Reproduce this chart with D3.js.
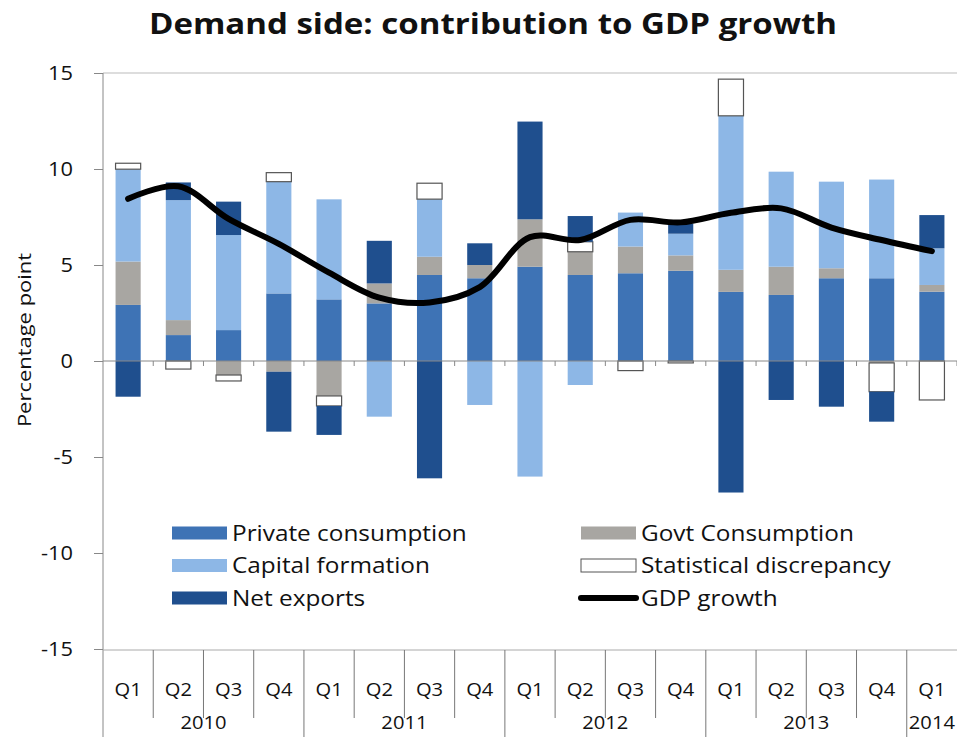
<!DOCTYPE html>
<html><head><meta charset="utf-8">
<script src="https://cdn.jsdelivr.net/npm/d3@7"></script>
<style>body{margin:0;background:#fff}svg{display:block}text{font-family:"Open Sans",Lato,sans-serif}</style>
</head><body><svg id="c" width="957" height="737"></svg>
<script>
const quarters = ["Q1","Q2","Q3","Q4","Q1","Q2","Q3","Q4","Q1","Q2","Q3","Q4","Q1","Q2","Q3","Q4","Q1"];
const years = ["2010","2011","2012","2013","2014"];
const yearSpans = [4,4,4,4,1];
const privateCons = [2.92,1.35,1.61,3.52,3.21,3.00,4.48,4.31,4.91,4.48,4.57,4.70,3.60,3.44,4.31,4.31,3.61];
const govCons     = [2.26,0.78,-0.73,-0.56,-1.82,1.04,0.95,0.69,2.47,1.21,1.39,0.80,1.15,1.47,0.52,-0.10,0.35];
const capital     = [4.81,6.25,4.95,5.82,5.21,-2.90,3.00,-2.29,-6.02,-1.25,1.77,1.13,8.02,4.95,4.51,5.14,1.91];
const statDisc    = [0.31,-0.42,-0.31,0.47,-0.52,0.00,0.83,0.00,0.00,0.52,-0.50,-0.10,1.91,0.00,0.00,-1.50,-2.03];
const netExports  = [-1.86,0.92,1.74,-3.12,-1.51,2.22,-6.11,1.13,5.09,1.34,0.00,0.52,-6.85,-2.03,-2.38,-1.56,1.73];
const gdpGrowth   = [8.45,9.10,7.40,6.10,4.60,3.30,3.05,3.85,6.45,6.30,7.35,7.22,7.72,7.95,6.95,6.30,5.72];
const yTicks = [-15,-10,-5,0,5,10,15];
const seriesNames = ["Private consumption","Govt Consumption","Capital formation","Statistical discrepancy","Net exports"];

const keys = ["p","g","c","s","n"];
const colors = {p:"#3e73b5", g:"#a8a6a2", c:"#8db7e6", s:"#ffffff", n:"#1f4f8e"};
const data = quarters.map((q,i)=>({i, p:privateCons[i], g:govCons[i], c:capital[i], s:statDisc[i], n:netExports[i]}));

const svg = d3.select("#c");
const L=103, R=957, T=73, B=649;
const x = d3.scaleBand().domain(d3.range(quarters.length)).range([L,R]).paddingInner(0.5).paddingOuter(0.25);
const xb = d3.scaleBand().domain(d3.range(quarters.length)).range([L,R]).padding(0);
const y = d3.scaleLinear().domain([-15,15]).range([B,T]);

function txt(g, tx, ty, s, size, anchor, weight, sx){
  return g.append("text").attr("transform",`translate(${tx},${ty}) scale(${sx||1.12},1)`)
    .attr("text-anchor",anchor||"start").attr("font-size",size).attr("font-weight",weight||"normal")
    .attr("fill","#111").text(s);
}

// title
txt(svg, 493, 34, "Demand side: contribution to GDP growth", 28, "middle", "bold", 1.18);

// top line
svg.append("line").attr("x1",L).attr("x2",R).attr("y1",y(15)).attr("y2",y(15)).attr("stroke","#bbb");

// y axis
const yAxis = d3.axisLeft(y).tickValues(yTicks).tickSize(9).tickFormat(d=>String(d));
const ya = svg.append("g").attr("transform",`translate(${L},0)`).call(yAxis);
ya.select(".domain").remove();
ya.selectAll("line").attr("stroke","#888");
ya.selectAll("text").remove();
yTicks.forEach(t=>txt(svg, 73, y(t)+7, String(t), 19.5, "end"));
svg.append("line").attr("x1",L).attr("x2",L).attr("y1",T).attr("y2",737).attr("stroke","#888");

svg.append("text").attr("transform",`translate(31,340) rotate(-90) scale(1.22,1)`).attr("text-anchor","middle")
  .attr("font-size",18).attr("fill","#111").text("Percentage point");

// stacked bars
const stack = d3.stack().keys(keys).offset(d3.stackOffsetDiverging);
const layers = stack(data);
svg.append("g").selectAll("g").data(layers).join("g")
  .attr("fill",d=>colors[d.key])
  .attr("stroke",d=>d.key==="s"?"#555":"none")
  .attr("stroke-width",1.2)
  .selectAll("rect").data(d=>d.filter(v=>v[1]-v[0]!==0)).join("rect")
  .attr("x",d=>x(d.data.i)).attr("width",x.bandwidth())
  .attr("y",d=>y(Math.max(d[0],d[1]))).attr("height",d=>Math.abs(y(d[0])-y(d[1])));

// zero axis with ticks
svg.append("line").attr("x1",L).attr("x2",R).attr("y1",y(0)).attr("y2",y(0)).attr("stroke","#888");
svg.append("g").selectAll("line").data(d3.range(1,quarters.length+1)).join("line")
  .attr("x1",i=>L+i*xb.step()).attr("x2",i=>L+i*xb.step())
  .attr("y1",y(0)).attr("y2",y(0)+5).attr("stroke","#888");

// GDP line
const line = d3.line().x((d,i)=>x(i)+x.bandwidth()/2).y(d=>y(d)).curve(d3.curveCatmullRom.alpha(0.5));
svg.append("path").datum(gdpGrowth).attr("d",line).attr("fill","none").attr("stroke","#000").attr("stroke-width",6).attr("stroke-linecap","round");

// bottom category axis
svg.append("line").attr("x1",L).attr("x2",R).attr("y1",B+1).attr("y2",B+1).attr("stroke","#aaa");
const xg = svg.append("g");
quarters.forEach((q,i)=>{
  txt(xg, xb(i)+xb.bandwidth()/2, 696, q, 18, "middle");
  if(i>0){
    const isYear = i%4===0;
    xg.append("line").attr("x1",xb(i)).attr("x2",xb(i)).attr("y1",B+1).attr("y2",isYear?737:718).attr("stroke","#777");
  }
});
let start=0;
years.forEach((yr,k)=>{
  const x0 = xb(start), x1 = (start+yearSpans[k]>=quarters.length)? R : xb(start+yearSpans[k]);
  txt(xg, (x0+x1)/2, 729, yr, 18, "middle");
  start+=yearSpans[k];
});

// legend
const leg = svg.append("g");
const legItems = [
  {name:seriesNames[0], k:"p", col:0, row:0},
  {name:seriesNames[2], k:"c", col:0, row:1},
  {name:seriesNames[4], k:"n", col:0, row:2},
  {name:seriesNames[1], k:"g", col:1, row:0},
  {name:seriesNames[3], k:"s", col:1, row:1},
  {name:"GDP growth", k:"line", col:1, row:2}
];
legItems.forEach(it=>{
  const lx = it.col===0?172:581, ly = 533 + it.row*32.5;
  if(it.k==="line"){
    leg.append("line").attr("x1",lx).attr("x2",lx+55).attr("y1",ly).attr("y2",ly).attr("stroke","#000").attr("stroke-width",6).attr("stroke-linecap","round");
  } else {
    leg.append("rect").attr("x",lx).attr("y",ly-6.5).attr("width",55).attr("height",13)
      .attr("fill",colors[it.k]).attr("stroke",it.k==="s"?"#555":"none");
  }
  txt(leg, lx+60, ly+7.5, it.name, 21, "start", "normal", 1.16);
});
</script></body></html>
